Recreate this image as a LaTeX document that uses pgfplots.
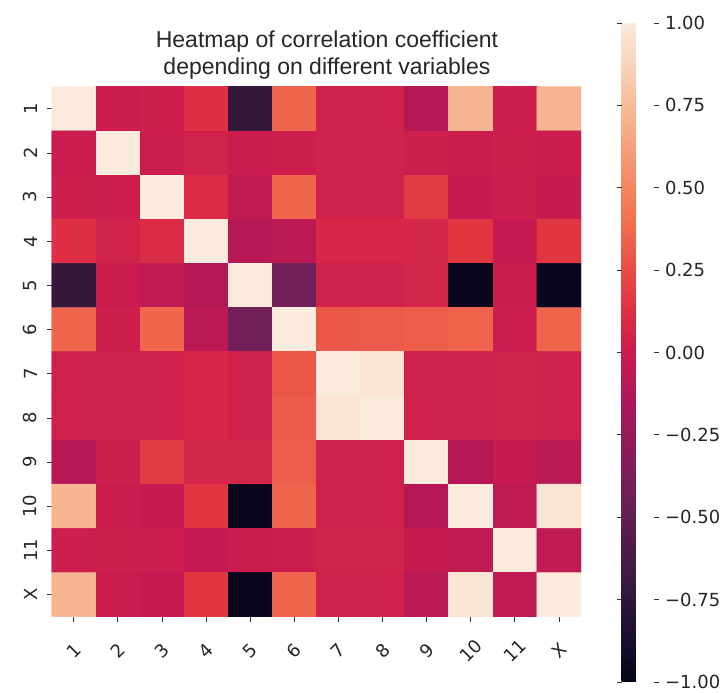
\documentclass[border=0pt]{standalone}
\usepackage{pgfplots}
\pgfplotsset{compat=1.18}
\usepackage{fontspec}
\setmainfont{DejaVu Sans}
\newfontfamily\titlefont{Liberation Sans}

% seaborn "rocket" colormap
\pgfplotsset{
  colormap={rocket}{
    rgb255(0pt)=(3,5,26)
    rgb255(143pt)=(53,25,62)
    rgb255(286pt)=(112,31,87)
    rgb255(429pt)=(173,23,89)
    rgb255(500pt)=(203,27,79)
    rgb255(571pt)=(225,51,66)
    rgb255(714pt)=(243,118,81)
    rgb255(857pt)=(246,180,143)
    rgb255(1000pt)=(250,235,221)
  }
}

% correlation matrix in long format: x = column index, y = 11 - row index
\pgfplotstableread{
x y c
0 11 1.00
1 11 0.00
2 11 0.02
3 11 0.12
4 11 -0.72
5 11 0.35
6 11 0.03
7 11 0.03
8 11 -0.10
9 11 0.72
10 11 0.01
11 11 0.72
0 10 0.00
1 10 1.00
2 10 0.01
3 10 0.04
4 10 0.00
5 10 0.02
6 10 0.03
7 10 0.03
8 10 0.02
9 10 0.00
10 10 0.02
11 10 0.00
0 9 0.02
1 9 0.01
2 9 1.00
3 9 0.10
4 9 -0.05
5 9 0.36
6 9 0.03
7 9 0.03
8 9 0.17
9 9 -0.02
10 9 0.01
11 9 -0.02
0 8 0.12
1 8 0.04
2 8 0.10
3 8 1.00
4 8 -0.10
5 8 -0.07
6 8 0.07
7 8 0.07
8 8 0.06
9 8 0.15
10 8 -0.03
11 8 0.15
0 7 -0.72
1 7 0.00
2 7 -0.05
3 7 -0.10
4 7 1.00
5 7 -0.43
6 7 0.03
7 7 0.03
8 7 0.06
9 7 -0.97
10 7 0.00
11 7 -0.97
0 6 0.35
1 6 0.02
2 6 0.36
3 6 -0.07
4 6 -0.43
5 6 1.00
6 6 0.30
7 6 0.31
8 6 0.32
9 6 0.35
10 6 0.01
11 6 0.35
0 5 0.03
1 5 0.03
2 5 0.03
3 5 0.07
4 5 0.03
5 5 0.30
6 5 1.00
7 5 0.97
8 5 0.03
9 5 0.03
10 5 0.04
11 5 0.03
0 4 0.03
1 4 0.03
2 4 0.03
3 4 0.07
4 4 0.03
5 4 0.31
6 4 0.97
7 4 1.00
8 4 0.03
9 4 0.03
10 4 0.04
11 4 0.03
0 3 -0.10
1 3 0.02
2 3 0.17
3 3 0.06
4 3 0.06
5 3 0.32
6 3 0.03
7 3 0.03
8 3 1.00
9 3 -0.10
10 3 -0.02
11 3 -0.08
0 2 0.72
1 2 0.00
2 2 -0.02
3 2 0.15
4 2 -0.97
5 2 0.35
6 2 0.03
7 2 0.03
8 2 -0.10
9 2 1.00
10 2 -0.05
11 2 0.97
0 1 0.01
1 1 0.02
2 1 0.01
3 1 -0.03
4 1 0.00
5 1 0.01
6 1 0.04
7 1 0.04
8 1 -0.02
9 1 -0.05
10 1 1.00
11 1 -0.05
0 0 0.72
1 0 0.00
2 0 -0.02
3 0 0.15
4 0 -0.97
5 0 0.35
6 0 0.03
7 0 0.03
8 0 -0.08
9 0 0.97
10 0 -0.05
11 0 1.00
}\corrtable

\begin{document}
\begin{tikzpicture}
\path[use as bounding box] (0,0) rectangle (724pt,693pt);
\begin{axis}[
  at={(51.7pt,76.3pt)}, anchor=south west,
  scale only axis, width=529.3pt, height=530pt,
  xmin=-0.5, xmax=11.5, ymin=-0.5, ymax=11.5,
  enlargelimits=false,
  axis line style={draw=none},
  tick align=outside,
  major tick length=5pt,
  tick style={black!80, line width=0.8pt},
  xtick={0,...,11},
  xticklabels={1,2,3,4,5,6,7,8,9,10,11,X},
  ytick={0,...,11},
  yticklabels={X,11,10,9,8,7,6,5,4,3,2,1},
  xtick pos=bottom, ytick pos=left,
  tick label style={font=\fontsize{18}{18}\selectfont, text=black!85},
  % shifts are taken in the rotated frame of each label
  xticklabel style={rotate=45, anchor=center, xshift=-20.5pt, yshift=-20.5pt},
  yticklabel style={rotate=90, anchor=south, yshift=6pt},
  colormap name=rocket,
  point meta min=-1, point meta max=1,
  colorbar,
  colorbar style={
    at={(parent axis.south east)}, anchor=south west,
    xshift=32pt, yshift=-65.3pt,
    scale only axis, width=32pt, height=659pt,
    axis line style={draw=none},
    ytick={-1,-0.75,-0.5,-0.25,0,0.25,0.5,0.75,1},
    yticklabels={−1.00,−0.75,−0.50,−0.25,0.00,0.25,0.50,0.75,1.00},
    yticklabel style={font=\fontsize{18}{18}\selectfont, text=black!85, xshift=3pt},
    tick align=outside, major tick length=5pt,
    tick style={black!80, line width=0.8pt},
  },
  title={Heatmap of correlation coefficient\\depending on different variables},
  title style={at={(0.520,1)}, anchor=south, yshift=1pt, inner sep=0pt, align=center,
    font=\titlefont\fontsize{23}{27}\selectfont, text=black!85},
]
\addplot[matrix plot*, mesh/cols=12, point meta=explicit] table[x=x, y=y, meta=c] {\corrtable};
\end{axis}
\end{tikzpicture}
\end{document}
